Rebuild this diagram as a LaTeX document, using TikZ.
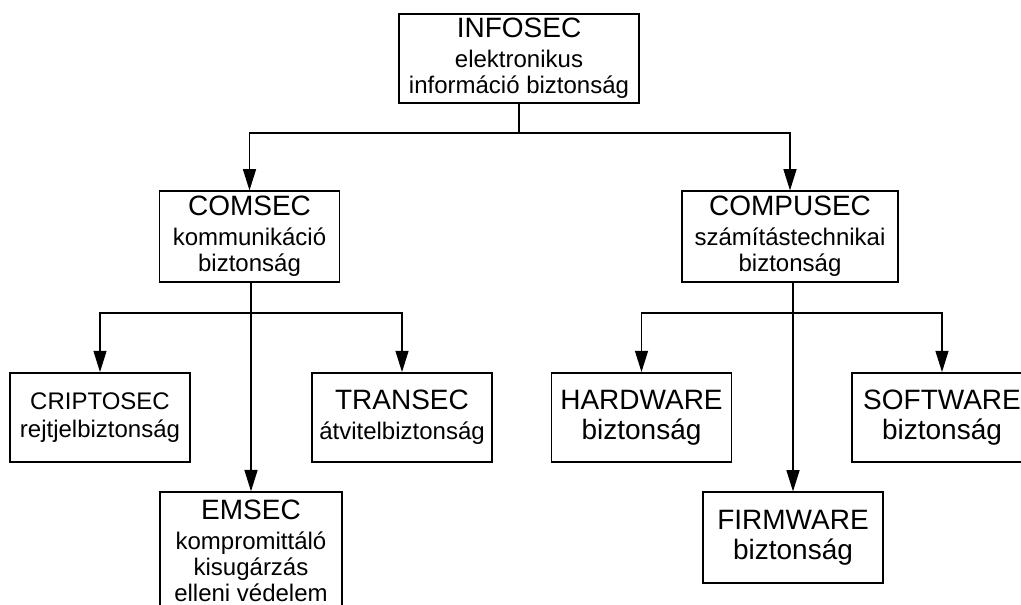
\documentclass[tikz,border=0pt]{standalone}
\usepackage{fontspec}
\setmainfont{Liberation Sans}
\usetikzlibrary{arrows.meta}
\newcommand{\cim}[1]{{\fontsize{21}{22.5}\selectfont #1}}

\begin{document}
\begin{tikzpicture}[x=0.75pt, y=-0.75pt, line width=1.1pt,
	>={Triangle[length=16pt, width=9.75pt]},
	box/.style={draw, align=center, inner sep=0pt, minimum width=135pt, minimum height=67pt,
		font=\fontsize{18}{19.5}\selectfont},
	big/.style={font=\fontsize{21}{22.5}\selectfont}]
	\clip (0, 0) rectangle (1021, 605);

	\node[box, minimum width=180pt]		(info)	at (519, 58.5)		{\cim{INFOSEC}\\[3pt]elektronikus\\információ biztonság};

	\node[box, minimum height=68pt]		(com)	at (249.5, 236.5)	{\cim{COMSEC}\\[3pt]kommunikáció\\biztonság};
	\node[box, minimum width=162pt, minimum height=68pt]	(comp)	at (790, 236.5)	{\cim{COMPUSEC}\\[3pt]számítástechnikai\\biztonság};

	\node[box]		(cripto)	at (100, 417.5)		{CRIPTOSEC\\[1.5pt]rejtjelbiztonság};
	\node[box]		(trans)		at (402, 417.5)		{\cim{TRANSEC}\\[3pt]átvitelbiztonság};
	\node[box, minimum width=136.5pt, minimum height=88pt]	(em)	at (251, 550.7)	{\cim{EMSEC}\\[3pt]kompromittáló\\kisugárzás\\elleni védelem};

	\node[box, big]		(hard)	at (641.5, 417.5)	{HARDWARE\\biztonság};
	\node[box, big]		(soft)	at (942, 417.5)		{SOFTWARE\\biztonság};
	\node[box, big, minimum height=68pt]	(firm)	at (793, 537.5)	{FIRMWARE\\biztonság};

	% elagazasok
	\coordinate (s0) at (519, 133);
	\coordinate (s1) at (251, 313);
	\coordinate (s2) at (793, 313);

	\draw (info) -- (s0);
	\draw[->] (s0) -| (com);
	\draw[->] (s0) -| (comp);

	\draw[->] (com.south -| em.north) -- (em);
	\draw[->] (s1) -| (cripto);
	\draw[->] (s1) -| (trans);

	\draw[->] (comp.south -| firm.north) -- (firm);
	\draw[->] (s2) -| (hard);
	\draw[->] (s2) -| (soft);
\end{tikzpicture}
\end{document}
